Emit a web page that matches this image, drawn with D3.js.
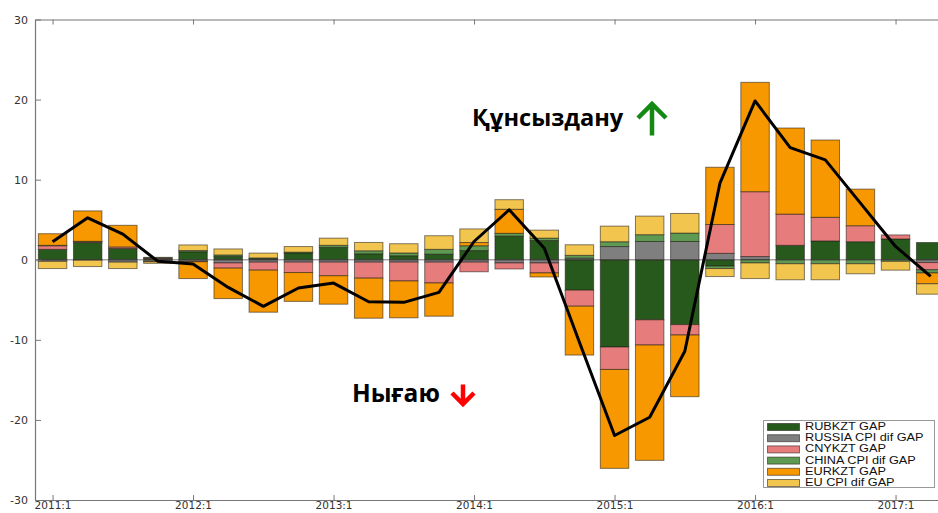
<!DOCTYPE html>
<html><head><meta charset="utf-8">
<script src="https://cdn.jsdelivr.net/npm/d3@7"></script>
<style>body{margin:0;background:#fff;overflow:hidden} svg{display:block}</style>
</head><body><svg id="c" width="938" height="513"></svg>
<script>
const quarters = ["2011:1","2011:2","2011:3","2011:4","2012:1","2012:2","2012:3","2012:4",
  "2013:1","2013:2","2013:3","2013:4","2014:1","2014:2","2014:3","2014:4",
  "2015:1","2015:2","2015:3","2015:4","2016:1","2016:2","2016:3","2016:4","2017:1","2017:2"];
const xTickLabels = ["2011:1","2012:1","2013:1","2014:1","2015:1","2016:1","2017:1"];
const yTicks = [30,20,10,0,-10,-20,-30];

const rubkzt   = [1.3, 2.15, 1.4, 0.15, 1.0, 0.4, 0.13, 0.85, 1.55, 0.75, 0.5, 0.7, 1.15, 2.95, 2.4, -3.8, -10.9, -7.5, -8.1, -0.8, 0, 1.8, 2.35, 2.25, 2.6, 2.15];
const russiaCpi= [-0.2, -0.05, -0.3, -0.2, -0.2, -0.4, -0.3, -0.3, -0.3, -0.3, -0.3, -0.3, -0.3, -0.4, -0.4, 0.2, 1.65, 2.28, 2.28, 0.8, 0.4, 0, 0, 0, 0, -0.35];
const cnykzt   = [0.45, 0.1, 0.2, 0.1, -0.05, -0.65, -1.0, -1.3, -1.7, -2.0, -2.35, -2.6, -1.2, -0.75, -1.25, -2.0, -2.8, -3.15, -1.3, 3.6, 8.1, 3.9, 2.95, 2.0, 0.5, -0.9];
const chinaCpi = [0.05, 0.05, 0.0, 0.05, 0.15, 0.2, 0.1, 0.1, 0.25, 0.37, 0.35, 0.6, 0.6, 0.35, 0.3, 0.35, 0.6, 0.85, 1.05, -0.3, -0.4, -0.5, -0.5, -0.5, -0.2, -0.4];
const eurkzt   = [1.45, 3.8, 2.7, -0.05, -2.1, -3.8, -5.25, -3.6, -3.55, -5.0, -4.6, -4.15, 0.4, 3.0, -0.5, -6.1, -12.35, -14.4, -7.7, 7.15, 13.65, 10.75, 9.65, 4.57, 0, -1.35];
const euCpi    = [-0.9, -0.8, -0.8, -0.2, 0.7, 0.75, 0.6, 0.7, 0.9, 1.04, 1.15, 1.7, 1.7, 1.2, 1.0, 1.32, 1.95, 2.32, 2.45, -1.0, -1.95, -2.0, -2.0, -1.25, -1.1, -1.3];
const totalGap = [2.24, 5.24, 3.2, -0.2, -0.54, -3.45, -5.82, -3.53, -2.91, -5.24, -5.32, -4.07, 2.28, 6.24, 1.45, -10.3, -21.95, -19.67, -11.43, 9.56, 19.83, 14.0, 12.47, 7.07, 1.66, -2.08];

const seriesNames = ["RUBKZT GAP","RUSSIA CPI dif GAP","CNYKZT GAP","CHINA CPI dif GAP","EURKZT GAP","EU CPI dif GAP"];
const seriesData = [rubkzt, russiaCpi, cnykzt, chinaCpi, eurkzt, euCpi];
const colors = ["#28591c","#7f7f7f","#e67c7c","#5f9a52","#f79800","#f2c54e"];

const svg = d3.select("#c");
const x = d3.scaleLinear().domain([-0.5, 26]).range([35, 965.8]);
const y = d3.scaleLinear().domain([-30, 30]).range([500, 19.5]);
const bw = (x(1) - x(0)) * 0.81;

const rows = quarters.map((q, i) => {
  const r = {i};
  seriesNames.forEach((n, k) => r[n] = seriesData[k][i]);
  return r;
});
const stack = d3.stack().keys(seriesNames).offset(d3.stackOffsetDiverging)(rows);

const gBars = svg.append("g");
stack.forEach((layer, k) => {
  gBars.append("g").selectAll("rect").data(layer.filter(d => Math.abs(d[1]-d[0]) > 1e-9))
    .join("rect")
    .attr("x", d => x(d.data.i) - bw/2)
    .attr("width", bw)
    .attr("y", d => y(Math.max(d[0], d[1])))
    .attr("height", d => Math.abs(y(d[0]) - y(d[1])))
    .attr("fill", colors[k])
    .attr("stroke", "rgba(30,25,20,0.55)")
    .attr("stroke-width", 1);
});

// zero line
svg.append("line").attr("x1", 35).attr("x2", 938).attr("y1", y(0)).attr("y2", y(0))
  .attr("stroke", "rgba(60,60,60,0.45)").attr("stroke-width", 1.5);

// total line
svg.append("path").datum(totalGap)
  .attr("d", d3.line().x((d, i) => x(i)).y(d => y(d)))
  .attr("fill", "none").attr("stroke", "#000").attr("stroke-width", 3).attr("stroke-linejoin", "round");

// axes
const tickIdx = xTickLabels.map(l => quarters.indexOf(l));
const axColor = "#777";
const fontTick = "DejaVu Sans, sans-serif";
const gx = svg.append("g").attr("transform", `translate(0,${y(-30)})`)
  .call(d3.axisBottom(x).tickValues(tickIdx).tickFormat((d, i) => xTickLabels[i]).tickSizeInner(-5).tickSizeOuter(0).tickPadding(2));
const gxt = svg.append("g").attr("transform", `translate(0,${y(30)})`)
  .call(d3.axisTop(x).tickValues(tickIdx).tickFormat("").tickSizeInner(-5).tickSizeOuter(0));
const gy = svg.append("g").attr("transform", `translate(${x(-0.5)},0)`)
  .call(d3.axisLeft(y).tickValues(yTicks).tickFormat(d => String(d)).tickSizeInner(-6).tickSizeOuter(0).tickPadding(7));
[gx, gxt, gy].forEach(g => {
  g.select(".domain").attr("stroke", axColor).attr("stroke-width", 1.2);
  g.selectAll(".tick line").attr("stroke", axColor).attr("stroke-width", 1);
  g.selectAll("text").attr("fill", "#333").style("font-family", fontTick).style("font-size", "11px");
});
gx.selectAll("text").style("font-size", "10.5px");

// legend
const lg = svg.append("g");
lg.append("rect").attr("x", 763.5).attr("y", 420.5).attr("width", 171).attr("height", 67)
  .attr("fill", "#fff").attr("stroke", "#999").attr("stroke-width", 1);
seriesNames.forEach((n, k) => {
  const yy = 423.5 + k * 11.2;
  lg.append("rect").attr("x", 767.5).attr("y", yy).attr("width", 32).attr("height", 7)
    .attr("fill", colors[k]).attr("stroke", "rgba(30,25,20,0.55)").attr("stroke-width", 1);
  lg.append("text").attr("transform", `translate(805,${yy + 3.8}) scale(1.27,1)`)
    .attr("dominant-baseline", "middle")
    .style("font-family", "'Liberation Sans', Arial, sans-serif").style("font-size", "10px").attr("fill", "#111").text(n);
});

// annotations
const fontAnn = "'Open Sans', 'Noto Sans', sans-serif";
svg.append("text").attr("x", 472).attr("y", 126).text("Құнсыздану")
  .style("font-family", fontAnn).style("font-weight", "700").style("font-size", "23.6px").attr("fill", "#000");
svg.append("path").attr("d", "M652,135.5 L652,105 M638,118 L652,104 L666,118")
  .attr("fill", "none").attr("stroke", "#148a14").attr("stroke-width", 4.5);
svg.append("text").attr("x", 352).attr("y", 402).text("Нығаю")
  .style("font-family", fontAnn).style("font-weight", "700").style("font-size", "24.5px").attr("fill", "#000");
svg.append("path").attr("d", "M463,384.5 L463,404 M452,393 L463,404 L474,393")
  .attr("fill", "none").attr("stroke", "#ff0000").attr("stroke-width", 4.5);
</script></body></html>
